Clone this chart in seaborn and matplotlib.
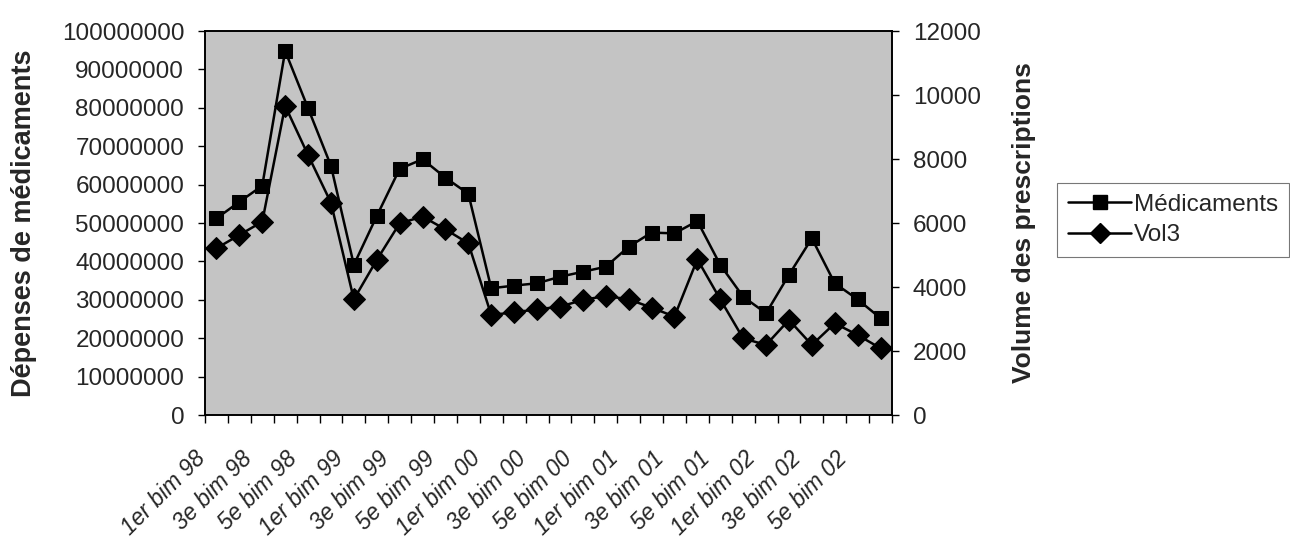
import matplotlib
matplotlib.use("Agg")
import matplotlib.pyplot as plt
import matplotlib.transforms as mtransforms
from matplotlib.ticker import StrMethodFormatter, FixedLocator, MultipleLocator
from matplotlib.lines import Line2D
import seaborn as sns
import pandas as pd

years = ["98", "99", "00", "01", "02"]
bims = ["1er", "2e", "3e", "4e", "5e", "6e"]
categories = [f"{b} bim {y}" for y in years for b in bims]

medicaments = [51.2e6, 55.5e6, 59.7e6, 94.8e6, 79.9e6, 64.9e6,
               39.1e6, 51.8e6, 64.1e6, 66.6e6, 61.8e6, 57.6e6,
               33.0e6, 33.7e6, 34.3e6, 36.0e6, 37.3e6, 38.6e6,
               43.8e6, 47.5e6, 47.3e6, 50.5e6, 39.1e6, 30.8e6,
               26.5e6, 36.5e6, 46.0e6, 34.3e6, 30.1e6, 25.2e6]
vol3 = [5210, 5625, 6040, 9660, 8125, 6635,
        3615, 4845, 5990, 6200, 5800, 5365,
        3125, 3210, 3300, 3385, 3595, 3720,
        3615, 3355, 3075, 4865, 3615, 2395,
        2190, 2970, 2190, 2865, 2500, 2085]

df = pd.DataFrame({"periode": categories, "Médicaments": medicaments, "Vol3": vol3})

sns.set_theme(style="white")
plt.rcParams["font.family"] = ["Liberation Sans", "DejaVu Sans"]

fig = plt.figure(figsize=(12.9, 5.41), dpi=100)
ax = fig.add_axes([205/1290, 1 - 415/541, 687/1290, 384/541])
ax.set_facecolor("#c4c4c4")

sns.lineplot(data=df, x="periode", y="Médicaments", ax=ax, color="black",
             marker="s", markersize=10, linewidth=1.8, markeredgecolor="black",
             sort=False, label="Médicaments", legend=False)
ax2 = ax.twinx()
sns.lineplot(data=df, x="periode", y="Vol3", ax=ax2, color="black",
             marker="D", markersize=11, linewidth=1.8, markeredgecolor="black",
             sort=False, label="Vol3", legend=False)

ax.set_xlim(-0.5, len(categories) - 0.5)
ax.set_ylim(0, 100000000)
ax2.set_ylim(0, 12000)
ax.yaxis.set_major_locator(MultipleLocator(10000000))
ax2.yaxis.set_major_locator(MultipleLocator(2000))
ax.yaxis.set_major_formatter(StrMethodFormatter("{x:.0f}"))
ax2.yaxis.set_major_formatter(StrMethodFormatter("{x:.0f}"))

# x ticks: labels every other category, tick marks at boundaries
label_pos = list(range(0, len(categories), 2))
ax.xaxis.set_major_locator(FixedLocator(label_pos))
ax.set_xticklabels([categories[i] for i in label_pos], rotation=45, ha="right",
                   fontsize=16.5, style="italic")
ax.xaxis.set_minor_locator(FixedLocator([i - 0.5 for i in range(len(categories) + 1)]))
ax.tick_params(axis="x", which="major", length=0, pad=23)
ax.tick_params(axis="x", which="minor", length=6, width=1, color="black", direction="out", bottom=True)
offset = mtransforms.ScaledTranslation(-6/100, 0, fig.dpi_scale_trans)
for lab in ax.get_xticklabels():
    lab.set_transform(lab.get_transform() + offset)

ax.tick_params(axis="y", which="major", length=5, width=1, color="black", direction="out",
               labelsize=17.5, pad=10, left=True)
ax2.tick_params(axis="y", which="major", length=5, width=1, color="black", direction="out",
                labelsize=17.5, pad=10, right=True)

ax.set_xlabel("")
ax.set_ylabel("Dépenses de médicaments", fontsize=19.5, fontweight="bold")
ax2.set_ylabel("Volume des prescriptions", fontsize=19, fontweight="bold")
ax.yaxis.set_label_coords(-0.245, 0.5)
ax2.yaxis.set_label_coords(1.175, 0.5)

for a in (ax, ax2):
    for s in a.spines.values():
        s.set_color("black")
        s.set_linewidth(1.2)

handles = [
    Line2D([], [], color="black", marker="s", markersize=10, linewidth=1.8, label="Médicaments"),
    Line2D([], [], color="black", marker="D", markersize=10, linewidth=1.8, label="Vol3"),
]
leg = fig.legend(handles=handles, loc="center left",
                 bbox_to_anchor=(1057/1290, 1 - 220/541), fontsize=17.5,
                 frameon=True, fancybox=False, handlelength=2.6, handletextpad=0.1,
                 borderpad=0.45, labelspacing=0.35, borderaxespad=0)
leg.get_frame().set_edgecolor("#555555")
leg.get_frame().set_linewidth(0.8)

fig.savefig("out.png", dpi=100, facecolor="white")
